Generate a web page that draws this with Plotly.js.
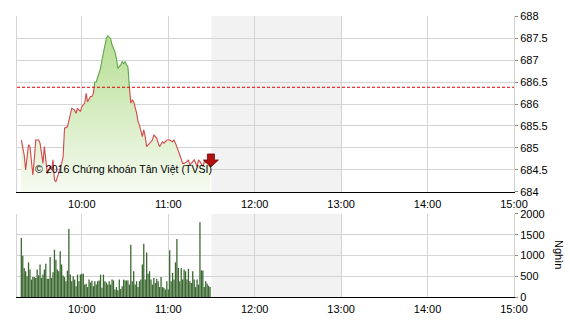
<!DOCTYPE html>
<html>
<head>
<meta charset="utf-8">
<script src="https://cdn.plot.ly/plotly-3.0.1.min.js"></script>
<style>html,body{margin:0;padding:0;background:#fff;}#chart{width:570px;height:320px;}</style>
</head>
<body>
<div id="chart"></div>
<script>
// ---- data ----
const times = ['09:18','09:20','09:21','09:23','09:24','09:25','09:26','09:27','09:28','09:30',
  '09:31','09:33','09:34','09:35','09:36','09:38','09:39','09:40','09:41','09:42',
  '09:44','09:46','09:47','09:48','09:50','09:52','09:53','09:55','09:56','09:57',
  '09:59','10:00','10:01','10:02','10:03','10:04','10:06','10:07','10:08','10:09',
  '10:10','10:11','10:13','10:14','10:15','10:16','10:17','10:18','10:20','10:21',
  '10:22','10:23','10:24','10:25','10:27','10:28','10:29','10:30','10:31','10:32',
  '10:33','10:34','10:35','10:36','10:38','10:39','10:40','10:42','10:43','10:44',
  '10:45','10:47','10:49','10:50','10:52','10:53','10:54','10:56','10:57','10:59',
  '11:01','11:03','11:04','11:05','11:06','11:07','11:08','11:10','11:11','11:13',
  '11:14','11:15','11:17','11:18','11:20','11:21','11:22','11:24','11:25','11:27','11:29'];
const values = [685.18,684.84,684.50,685.07,685.03,684.60,684.39,684.73,685.18,685.18,
  685.11,684.65,685.03,684.73,684.42,684.58,684.50,684.73,684.27,684.23,
  684.42,684.65,684.80,685.45,685.48,685.75,685.90,685.86,685.79,685.90,
  685.83,685.94,685.98,686.02,686.24,686.05,686.17,686.17,686.24,686.50,
  686.50,686.62,686.81,687.00,687.19,687.34,687.49,687.55,687.49,687.34,
  687.27,687.19,687.04,686.81,686.89,686.96,686.92,686.96,686.89,686.85,
  686.39,686.02,686.09,686.05,685.80,685.60,685.52,685.26,685.41,685.26,
  685.03,685.11,685.18,685.30,685.22,685.11,685.03,685.14,685.11,685.18,
  685.18,685.14,685.18,685.11,685.03,684.92,684.84,684.65,684.65,684.69,
  684.73,684.61,684.69,684.73,684.58,684.73,684.69,684.58,684.69,684.66,684.70];
const refLevel = 686.38;

const volStart = '09:18';
const volumes = [1420,995,700,620,500,835,660,420,480,480,
  460,660,520,780,460,540,660,800,440,440,
  965,460,595,1140,900,660,620,1100,780,520,
  480,380,635,1640,540,380,500,420,257,540,
  380,540,560,560,300,320,240,420,350,
  390,260,380,300,380,400,540,220,540,
  380,350,300,380,300,420,400,180,240,160,
  420,190,260,420,400,400,400,300,1260,
  380,620,300,380,240,380,420,780,1285,
  420,1075,560,620,420,300,460,340,440,380,
  240,480,240,220,180,380,180,1125,
  380,580,420,835,1400,
  700,380,700,420,660,620,420,680,380,340,620,420,240,420,300,1800,
  640,640,240,380,320,270,240];

const tickTimes = ['10:00','11:00','12:00','13:00','14:00','15:00'];
const lunch = ['11:30','13:00'];
const axisStart = '09:15', axisEnd = '15:00';
const watermark = '© 2016 Chứng khoán Tân Việt (TVSI)';
const unitLabel = 'Nghìn';

// ---- helpers ----
const toMin = s => { const [h,m] = s.split(':').map(Number); return h*60+m; };
const xs = times.map(toMin);
const volX = volumes.map((v,i) => toMin(volStart) + i);

// split line into segments above/below reference
function splitSeries(above) {
  const ox = [], oy = [];
  for (let i = 0; i < xs.length; i++) {
    const inside = above ? values[i] >= refLevel : values[i] <= refLevel;
    if (i > 0) {
      const a = values[i-1], b = values[i];
      if ((a - refLevel) * (b - refLevel) < 0) {
        const t = (refLevel - a) / (b - a);
        const cx = xs[i-1] + t * (xs[i] - xs[i-1]);
        ox.push(cx); oy.push(refLevel);
        if (!inside) { ox.push(null); oy.push(null); }
      }
    }
    if (inside) { ox.push(xs[i]); oy.push(values[i]); }
    else if (ox.length && oy[oy.length-1] !== null) { ox.push(null); oy.push(null); }
  }
  return {x: ox, y: oy};
}
const up = splitSeries(true), dn = splitSeries(false);

const font = {family: '"Liberation Sans Narrow", "Liberation Sans", Arial, sans-serif', size: 11, color: '#000'};
const gridC = '#d4d4d4';

const traces = [
  {x: xs, y: values, type: 'scatter', mode: 'lines', line: {width: 0},
   fill: 'tozeroy',
   fillgradient: {type: 'vertical', start: 684, stop: 687.6,
     colorscale: [[0, 'rgb(246,251,241)'], [1, 'rgb(182,222,146)']]},
   xaxis: 'x', yaxis: 'y', hoverinfo: 'skip', showlegend: false},
  {x: dn.x, y: dn.y, type: 'scatter', mode: 'lines', line: {color: '#d4474c', width: 1.1},
   connectgaps: false, xaxis: 'x', yaxis: 'y', showlegend: false},
  {x: up.x, y: up.y, type: 'scatter', mode: 'lines', line: {color: '#5ea548', width: 1.1},
   connectgaps: false, xaxis: 'x', yaxis: 'y', showlegend: false},
  {x: volX, y: volumes, type: 'bar', width: 0.9, marker: {color: '#3b6830', line: {width: 0}},
   xaxis: 'x2', yaxis: 'y2', showlegend: false}
];

// arrow marker just past the last point
const c = xs[xs.length-1] + 0.6, ly = values[values.length-1];
const arrowPath = `M ${c-2.45} ${ly+0.164} L ${c+2.45} ${ly+0.164} L ${c+2.45} ${ly+0.027} L ${c+5.2} ${ly+0.027} L ${c} ${ly-0.132} L ${c-5.2} ${ly+0.027} L ${c-2.45} ${ly+0.027} Z`;

const xr = [toMin(axisStart), toMin(axisEnd)];
const tv = tickTimes.map(toMin);

const xaxisBase = {range: xr, tickmode: 'array', tickvals: tv, ticktext: tickTimes,
  showgrid: true, gridcolor: gridC, gridwidth: 1, zeroline: false,
  showline: true, linecolor: '#000', linewidth: 1, ticks: 'outside', ticklen: 2,
  tickcolor: 'rgba(0,0,0,0)', tickfont: font, fixedrange: true};
const yaxisBase = {side: 'right', showgrid: true, gridcolor: gridC, zeroline: false,
  showline: true, mirror: true, linecolor: gridC, ticks: 'outside', ticklen: 3, tickcolor: '#888',
  tickfont: font, fixedrange: true};

const layout = {
  width: 570, height: 320,
  margin: {l: 17, r: 56, t: 16, b: 23},
  paper_bgcolor: '#fff', plot_bgcolor: '#fff',
  showlegend: false,
  xaxis: Object.assign({}, xaxisBase, {anchor: 'y', domain: [0, 1]}),
  xaxis2: Object.assign({}, xaxisBase, {anchor: 'y2', domain: [0, 1]}),
  yaxis: Object.assign({}, yaxisBase, {domain: [0.3737, 1], range: [684, 688], dtick: 0.5, tick0: 684}),
  yaxis2: Object.assign({}, yaxisBase, {domain: [0, 0.2954], range: [0, 2000], dtick: 500, tick0: 0}),
  bargap: 0.1,
  shapes: [
    {type: 'rect', xref: 'x', yref: 'y', x0: toMin(lunch[0]), x1: toMin(lunch[1]), y0: 684, y1: 688,
     fillcolor: '#f2f2f2', line: {width: 0}, layer: 'below'},
    {type: 'rect', xref: 'x2', yref: 'y2', x0: toMin(lunch[0]), x1: toMin(lunch[1]), y0: 0, y1: 2000,
     fillcolor: '#f2f2f2', line: {width: 0}, layer: 'below'},
    {type: 'line', xref: 'x domain', yref: 'y', x0: 0, x1: 1, y0: refLevel, y1: refLevel,
     line: {color: '#e00000', width: 1, dash: '3px,2px'}, layer: 'above'},
    {type: 'path', xref: 'x', yref: 'y', path: arrowPath, fillcolor: '#b01212',
     line: {color: '#6e0808', width: 0.8}, layer: 'above'}
  ],
  annotations: [
    {xref: 'paper', yref: 'paper', x: 0.032, y: 0.4555, xanchor: 'left', yanchor: 'middle',
     text: watermark, showarrow: false,
     font: {family: '"Liberation Sans", Arial, sans-serif', size: 10.6, color: '#000'}},
    {xref: 'paper', yref: 'paper', x: 1.0905, y: 0.1495, xanchor: 'center', yanchor: 'middle',
     text: unitLabel, showarrow: false, textangle: 90,
     font: {family: '"Liberation Sans", Arial, sans-serif', size: 11, color: '#000'}}
  ]
};

Plotly.newPlot('chart', traces, layout, {displayModeBar: false, staticPlot: true});
</script>
</body>
</html>
